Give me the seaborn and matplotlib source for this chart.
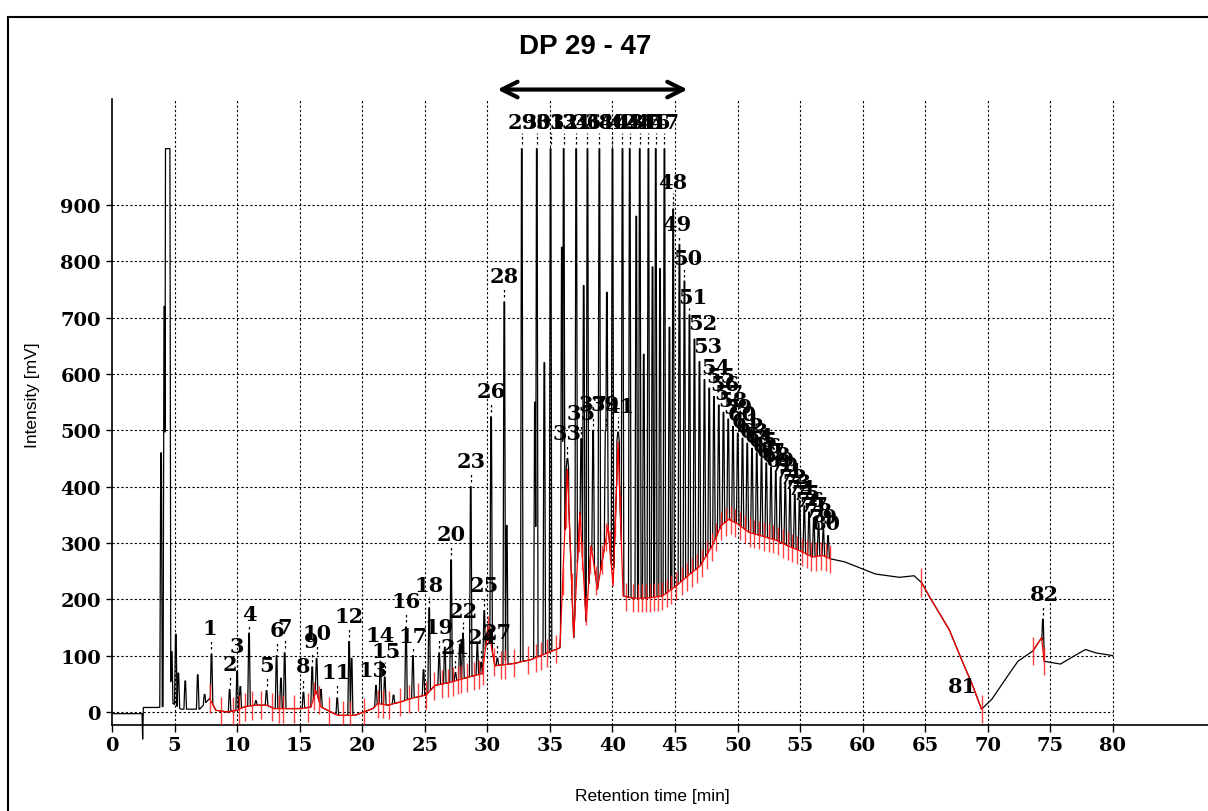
import numpy as np
import matplotlib
matplotlib.use("Agg")
import matplotlib.pyplot as plt
from matplotlib.patches import Rectangle
import seaborn as sns

sns.set_style("white")
plt.rcParams['font.family'] = ['Liberation Sans', 'DejaVu Sans']
plt.rcParams['text.color'] = 'black'
plt.rcParams['axes.labelcolor'] = 'black'
plt.rcParams['xtick.color'] = 'black'
plt.rcParams['ytick.color'] = 'black'

# ---- data ----
# labelled peaks: number, retention time [min], top [mV]
peak_no = list(range(1, 83))
peak_t = [7.95, 9.40, 10.00, 10.95, 12.35, 13.15, 13.80, 15.30, 16.00, 16.35,
          18.00, 18.95, 21.10, 21.45, 21.80, 23.50, 24.05, 25.35, 26.15, 27.10,
          27.45, 28.05, 28.67, 29.50, 29.75, 30.30, 30.80, 31.35, 32.75, 33.95,
          35.05, 36.10, 36.40, 37.10, 37.50, 38.00, 38.45, 38.95, 39.45, 40.00,
          40.45, 40.80, 41.38, 42.18, 42.87, 43.46, 44.15, 44.85, 45.35, 45.75,
          46.15, 46.55, 46.95, 47.35, 47.73, 48.11, 48.49, 48.87, 49.25, 49.63,
          50.01, 50.39, 50.77, 51.15, 51.53, 51.91, 52.29, 52.67, 53.05, 53.43,
          53.81, 54.19, 54.57, 54.95, 55.33, 55.71, 56.09, 56.47, 56.85, 57.23,
          69.50, 74.40]
peak_h = [103, 40, 72, 140, 38, 100, 105, 35, 80, 95,
          25, 125, 47, 90, 62, 151, 100, 185, 105, 270,
          70, 140, 400, 88, 180, 524, 96, 728, 1000, 1000,
          1000, 1000, 450, 1000, 485, 1000, 500, 1000, 500, 1000,
          497, 1000, 1000, 1000, 1000, 1000, 1000, 893, 830, 765,
          705, 662, 622, 590, 575, 560, 545, 532, 520, 507,
          495, 486, 477, 468, 460, 451, 442, 434, 425, 416,
          406, 396, 386, 376, 366, 355, 345, 335, 324, 313,
          5, 165]

# unlabelled peaks (solvent front, small peaks, shoulders)
extra_t = [3.92, 4.18, 4.30, 4.36, 4.42, 4.48, 4.54, 4.60, 4.77, 5.10, 5.30,
           5.85, 6.85, 7.40, 10.25, 11.50, 13.50, 16.70, 19.15, 22.50, 24.90,
           26.60, 27.80, 29.20, 31.55, 33.80, 34.55, 35.95, 37.70, 39.55, 41.90,
           42.50, 43.20, 43.80, 44.55]
extra_h = [460, 720, 1000, 1000, 1000, 1000, 1000, 1000, 107, 138, 69,
           55, 66, 31, 45, 20, 60, 40, 95, 30, 75,
           115, 120, 120, 331, 550, 620, 825, 757, 745, 880,
           635, 790, 787, 683]

# trace level before the integrated region
pre_t = [0, 2.40, 2.45, 2.50, 3.80, 4.90, 5.50, 7.00]
pre_v = [-3, -3, -50, 8, 8, 15, 5, 5]

# integration baseline (red), also the floor of the trace
base_t = [7.8, 8.3, 9.2, 10.0, 10.55, 11.35, 12.4, 12.95, 15.1, 15.9, 16.3, 16.7,
          17.5, 18.05, 19.4, 20.85, 21.25, 22.05, 23.1, 23.9, 25.1, 25.8, 27.1,
          28.5, 29.6, 30.05, 30.6, 32.1, 33.5, 34.7, 35.8, 36.4, 36.9, 37.4, 37.9,
          38.3, 38.8, 39.65, 40.05, 40.45, 40.85, 41.65, 42.7, 44.0, 45.1, 46.2,
          47.0, 48.0, 48.7, 49.3, 50.0, 50.9, 51.7, 53.1, 53.9, 54.9, 56.0, 56.8,
          57.4]
base_v = [24, 3, 0, 3, 9, 12, 12, 6, 6, 9, 38, 9,
          0, -6, -6, 6, 15, 12, 18, 24, 30, 47, 53,
          62, 68, 150, 82, 86, 93, 104, 114, 431, 132, 354, 161,
          295, 218, 330, 224, 479, 206, 202, 202, 206, 224, 245,
          259, 296, 331, 342, 334, 319, 314, 305, 296, 287, 275, 278,
          272]

# trace after the last oligomer
post_t = [58.5, 60.0, 61.0, 62.9, 64.1, 64.7, 65.3, 66.9, 67.9, 68.7, 69.5, 70.3,
          71.4, 72.4, 73.6, 74.3, 74.5, 75.8, 76.4, 77.8, 78.6, 80.0]
post_v = [267, 254, 245, 239, 242, 230, 206, 147, 93, 52, 5, 22,
          58, 90, 108, 132, 90, 85, 93, 111, 105, 100]

x_ticks = list(range(0, 85, 5))
y_ticks = list(range(0, 1000, 100))

# ---- build the trace from the peak list ----
floor_t = np.array(pre_t + base_t + post_t)
floor_v = np.array(pre_v + base_v + post_v)
grid = np.arange(0, 80.0005, 0.004)
trace = np.interp(grid, floor_t, floor_v)
all_t = [t for n, t in zip(peak_no, peak_t) if n != 81] + extra_t
all_h = [h for n, h in zip(peak_no, peak_h) if n != 81] + extra_h
for t, h in zip(all_t, all_h):
    f0 = np.interp(t, floor_t, floor_v)
    d = np.abs(grid - t)
    shape = np.where(d <= 0.03, h, f0 + (h - f0) * (0.1 - d) / 0.07)
    shape = np.where(d < 0.1, shape, -1e9)
    trace = np.maximum(trace, shape)

# ---- figure ----
W, H = 1208, 812
fig = plt.figure(figsize=(W / 100, H / 100), dpi=100)
ax = fig.add_axes([112 / W, 1 - 726 / H, 1 - 112 / W, (726 - 100) / H])
ax.set_xlim(0, 87.6)
ax.set_ylim(-23.1, 1088.2)

# dotted grid, only over 0-80 min / 0-900 mV
ax.hlines(y_ticks, 0, 80, colors='black', linestyles=(0, (2, 2)), lw=0.8, zorder=1)
ax.vlines(x_ticks[1:], -23.1, 1088.2, colors='black', linestyles=(0, (2, 2)), lw=0.8, zorder=1)

sns.lineplot(x=grid, y=trace, ax=ax, color='black', linewidth=0.9,
             estimator=None, sort=False, clip_on=False, zorder=3)

# red integration baseline + boundary ticks
sns.lineplot(x=base_t, y=base_v, ax=ax, color='red', linewidth=0.9,
             estimator=None, sort=False, zorder=4)
post_t_a = np.array(post_t)
post_v_a = np.array(post_v)
m2 = (post_t_a >= 64.7) & (post_t_a <= 69.5)
sns.lineplot(x=post_t_a[m2], y=post_v_a[m2], ax=ax, color='red', linewidth=0.9,
             estimator=None, sort=False, zorder=4)
m3 = (post_t_a >= 73.6) & (post_t_a <= 74.5)
sns.lineplot(x=post_t_a[m3], y=post_v_a[m3], ax=ax, color='red', linewidth=0.9,
             estimator=None, sort=False, zorder=4)

srt = np.sort(np.array(all_t))
mids = (srt[1:] + srt[:-1]) / 2
mids = mids[(mids > base_t[0]) & (mids < base_t[-1])]
bt = np.concatenate([[base_t[0]], mids, [base_t[-1]]])
bv = np.interp(bt, base_t, base_v)
ax.vlines(bt, bv - 25, bv + 25, colors='#ff2020', lw=1, alpha=0.85, zorder=4)
et = np.array([64.7, 69.5, 73.6, 74.5])
ev = np.interp(et, post_t, post_v)
ax.vlines(et, ev - 25, ev + 25, colors='#ff2020', lw=1, alpha=0.85, zorder=4)

# ---- peak labels ----
lab_font = dict(family='DejaVu Serif', fontweight='bold', fontsize=15)
tick_font = dict(family='DejaVu Serif', fontweight='bold', fontsize=14)
dy_over = {4: 34, 13: 28, 17: 35, 18: 40, 22: 40, 81: 41, 82: 44}
dx_over = {1: -0.1, 9: -0.1, 11: -0.1, 13: -0.2, 15: 0.1, 24: 0.1, 41: 0.15, 81: -1.5, 82: 0.1}
for n, dx, dy in zip(range(48, 54), [0, -0.2, 0.25, 0.3, 0.65, 0.7], [48, 36, 41, 32, 28, 28]):
    dx_over[n] = dx
    dy_over[n] = dy
for n, dx in zip(range(54, 81), np.linspace(0.95, -0.1, 27)):
    dx_over[n] = dx
    dy_over[n] = 22

for n, t, h in zip(peak_no, peak_t, peak_h):
    dx = dx_over.get(n, 0.0)
    dy = dy_over.get(n, 46)
    if h >= 1000:
        dy = 48
    ax.text(t + dx, h + dy, str(n), ha='center', va='center', zorder=6,
            clip_on=False, **lab_font)
    if n != 81 and dy - 20 > 10:
        ax.plot([t, t], [h + 8, h + dy - 20], color='black', lw=0.9,
                ls=(0, (2, 2)), zorder=5)

# ---- axes styling ----
for s in ['top', 'right']:
    ax.spines[s].set_visible(False)
ax.spines['left'].set_linewidth(1.2)
ax.spines['bottom'].set_linewidth(1.2)
ax.spines['left'].set_color('black')
ax.spines['bottom'].set_color('black')
ax.set_xticks(x_ticks)
ax.set_yticks(y_ticks)
ax.set_xticklabels([str(v) for v in x_ticks], **tick_font)
ax.set_yticklabels([str(v) for v in y_ticks], **tick_font)
ax.tick_params(axis='x', direction='out', length=5, width=1, pad=3, bottom=True)
ax.tick_params(axis='y', direction='out', length=4, width=1, pad=4, left=True)

fig.text(32 / W, 1 - 395 / H, 'Intensity [mV]', rotation=90, ha='center', va='center',
         fontsize=12.5)
fig.text(652 / W, 1 - 797 / H, 'Retention time [min]', ha='center', va='center',
         fontsize=12.5)
fig.text(585 / W, 1 - 47 / H, 'DP 29 - 47', ha='center', va='center',
         fontsize=20, fontweight='bold')
ax.annotate('', xy=(30.8, 1105), xytext=(46.0, 1105), annotation_clip=False,
            arrowprops=dict(arrowstyle='<->', lw=3, color='black', mutation_scale=28,
                            shrinkA=0, shrinkB=0))

# outer frame
fig.patches.append(Rectangle((8 / W, -0.05), 1.1, (H - 18) / H + 0.05,
                             transform=fig.transFigure, fill=False, lw=1.5,
                             ec='black'))

fig.savefig('out.png', dpi=100)
